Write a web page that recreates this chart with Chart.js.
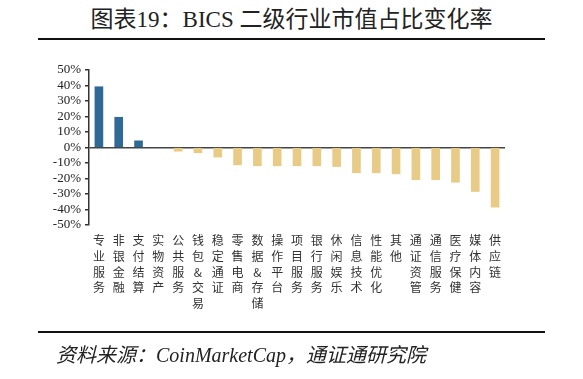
<!DOCTYPE html>
<html><head><meta charset="utf-8">
<script src="https://cdn.jsdelivr.net/npm/chart.js@4.4.0/dist/chart.umd.min.js"></script>
<style>
html,body{margin:0;padding:0;background:#fff;width:583px;height:379px;overflow:hidden;position:relative;}
#title{position:absolute;left:0;width:583px;top:6px;text-align:center;font:23px "Liberation Serif","Noto Sans CJK SC",serif;color:#222;line-height:28px;}
.rule{position:absolute;left:38px;width:507px;height:2px;background:#111;}
#src{position:absolute;left:56px;top:342px;font:italic 20px "Liberation Serif","Noto Sans CJK SC",serif;color:#222;line-height:26px;}
#wrap{position:absolute;left:0;top:0;width:583px;height:379px;}
</style></head>
<body>
<div id="title">图表19：BICS 二级行业市值占比变化率</div>
<div class="rule" style="top:38px"></div>
<div id="wrap"><canvas id="c" width="583" height="379"></canvas></div>
<div class="rule" style="top:331px"></div>
<div id="src">资料来源：CoinMarketCap，通证通研究院</div>
<script>
const categories = ["专业服务","非银金融","支付结算","实物资产","公共服务","钱包&交易","稳定通证","零售电商","数据&存储","操作平台","项目服务","银行服务","休闲娱乐","信息技术","性能优化","其他","通证资管","通信服务","医疗保健","媒体内容","供应链"];
const changeValues = [39.2, 19.5, 4.3, 0, -2.4, -3.4, -6.2, -11.2, -11.8, -11.8, -11.8, -11.8, -12.3, -16.3, -16.3, -17.0, -20.8, -20.8, -22.4, -28.4, -38.5];
const yTicks = [50, 40, 30, 20, 10, 0, -10, -20, -30, -40, -50];

const POS = '#2F6A96', NEG = '#E9CB88';
new Chart(document.getElementById('c'), {
  type: 'bar',
  data: {
    labels: categories.map(s => Array.from(s)),
    datasets: [{
      data: changeValues,
      backgroundColor: changeValues.map(v => v > 0 ? POS : (v < 0 ? NEG : 'rgba(0,0,0,0)')),
      barThickness: 8
    }]
  },
  options: {
    responsive: false,
    animation: false,
    plugins: { legend: { display: false }, tooltip: { enabled: false }, title: { display: false } },
    layout: { padding: { top: 70, right: 78, left: 0, bottom: 0 } },
    scales: {
      x: {
        grid: { display: false, drawTicks: false },
        border: { display: false },
        ticks: { padding: 8, autoSkip: false, maxRotation: 0, minRotation: 0, color: '#333',
                 font: { family: '"Noto Sans CJK SC"', size: 12, lineHeight: 1.3 } },
        afterFit: s => { s.height = 154; }
      },
      y: {
        min: -50, max: 50,
        afterBuildTicks: s => { s.ticks = yTicks.map(v => ({ value: v })); },
        grid: {
          drawOnChartArea: true, drawTicks: true, tickLength: 4,
          color: c => (c.tick && c.tick.value === 0) ? '#444' : 'rgba(0,0,0,0)',
          tickColor: '#333', lineWidth: 1.5
        },
        border: { display: true, color: '#333', width: 1.5 },
        ticks: { padding: 4, autoSkip: false, color: '#222', callback: v => v + '%',
                 font: { family: '"Liberation Serif"', size: 13 } },
        afterFit: s => { s.width = 89; }
      }
    }
  }
});
</script>
</body></html>
